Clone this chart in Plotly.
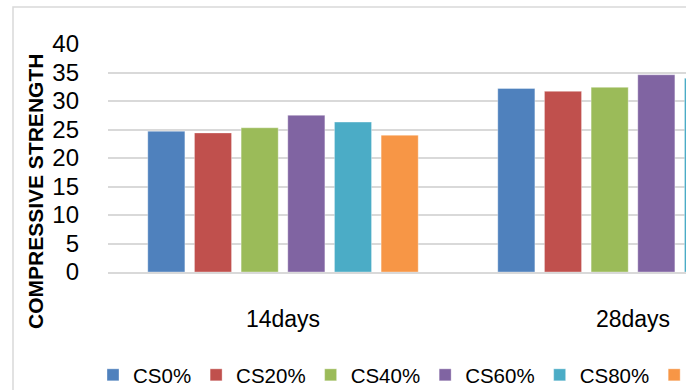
import plotly.graph_objects as go

categories = ["14days", "28days"]
series_names = ["CS0%", "CS20%", "CS40%", "CS60%", "CS80%", "CS100%"]
series_values = [
    [24.7, 32.2],
    [24.4, 31.7],
    [25.3, 32.4],
    [27.5, 34.6],
    [26.3, 34.0],
    [24.0, 31.5],
]
colors = ["#4F81BD", "#C0504D", "#9BBB59", "#8064A2", "#4BACC6", "#F79646"]
y_ticks = [0, 5, 10, 15, 20, 25, 30, 35, 40]

FONT = "Liberation Sans"
W, H = 830, 400
L, R, T, B = 108, 22, 44, 128
PW, PH = W - L - R, H - T - B


def px_x(p):
    return (p - L) / PW


def px_y(p):
    return (T + PH - p) / PH


fig = go.Figure()
for name, vals, col in zip(series_names, series_values, colors):
    fig.add_trace(go.Bar(
        name=name, x=categories, y=vals,
        marker=dict(color=col, line=dict(color="rgba(255,255,255,0.35)", width=1)),
    ))

fig.update_layout(
    width=W, height=H,
    margin=dict(l=L, r=R, t=T, b=B, autoexpand=False),
    paper_bgcolor="white", plot_bgcolor="white",
    barmode="group", bargap=0.20, bargroupgap=0.205,
    font=dict(family=FONT, color="#000000"),
    legend=dict(
        orientation="h", x=px_x(93), xanchor="left",
        y=px_y(375), yanchor="middle",
        font=dict(size=20.5, family=FONT),
        bgcolor="rgba(0,0,0,0)", traceorder="normal",
    ),
    xaxis=dict(
        showgrid=False, showline=True, linecolor="#d9d9d9", linewidth=2,
        tickfont=dict(size=23, family=FONT), ticks="", ticklabelstandoff=25,
        range=[-0.5, 1.5], fixedrange=True,
    ),
    yaxis=dict(
        range=[0, 40], tickvals=y_ticks, showgrid=True, gridcolor="#d9d9d9",
        gridwidth=1.6, zeroline=False, showline=False,
        tickfont=dict(size=24, family=FONT), ticklabelstandoff=28, fixedrange=True,
    ),
    annotations=[dict(
        text="<b>COMPRESSIVE STRENGTH</b>", xref="paper", yref="paper",
        x=px_x(35), y=px_y(192), xanchor="center", yanchor="middle",
        textangle=-90, showarrow=False, font=dict(size=21, family=FONT, color="#000000"),
    )],
    shapes=[dict(
        type="rect", xref="paper", yref="paper",
        x0=px_x(13), x1=px_x(W - 8), y0=px_y(H - 4), y1=px_y(7),
        line=dict(color="#d9d9d9", width=1.5), fillcolor="rgba(0,0,0,0)", layer="below",
    )],
)

post = ("document.documentElement.style.overflow='hidden';"
        "document.body.style.overflow='hidden';document.body.style.margin='0';")
fig.write_html("out.html", config={"displayModeBar": False}, post_script=post)
